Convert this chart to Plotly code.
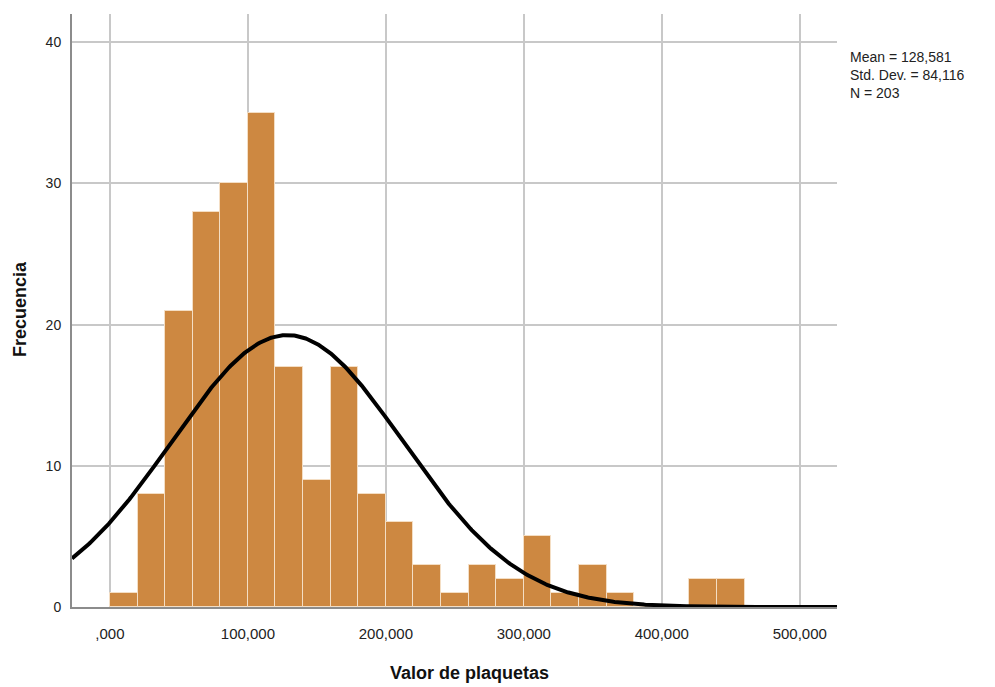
import numpy as np
import plotly.graph_objects as go

# Histogram of platelet values: bin starts (width 20,000) and frequencies
bin_starts = [0, 20000, 40000, 60000, 80000, 100000, 120000, 140000, 160000, 180000,
              200000, 220000, 240000, 260000, 280000, 300000, 320000, 340000, 360000,
              380000, 400000, 420000, 440000]
frequencies = [1, 8, 21, 28, 30, 35, 17, 9, 17, 8,
               6, 3, 1, 3, 2, 5, 1, 3, 1,
               0, 0, 2, 2]
bin_width = 20000

# Summary statistics
mean_val = 128581
std_val = 84116
n_val = 203

x_tickvals = [0, 100000, 200000, 300000, 400000, 500000]
x_ticktext = [",000", "100,000", "200,000", "300,000", "400,000", "500,000"]
y_tickvals = [0, 10, 20, 30, 40]

x_range = [-27500, 527000]
y_range = [0, 42]

bar_centers = [b + bin_width / 2 for b in bin_starts]

# Normal curve scaled to counts per bin
xs = np.linspace(x_range[0], x_range[1], 600)
ys = n_val * bin_width / (std_val * np.sqrt(2 * np.pi)) * np.exp(-0.5 * ((xs - mean_val) / std_val) ** 2)

fig = go.Figure()
fig.add_trace(go.Bar(
    x=bar_centers, y=frequencies, width=bin_width,
    marker=dict(color="#CD8841", line=dict(color="#F4DEC4", width=1)),
    hoverinfo="x+y",
))
fig.add_trace(go.Scatter(
    x=xs, y=ys, mode="lines",
    line=dict(color="#000000", width=4),
    hoverinfo="skip",
))

font_family = "Liberation Sans, Arial, sans-serif"

fig.update_layout(
    width=995, height=687,
    margin=dict(l=72, r=158, t=14, b=80),
    paper_bgcolor="white", plot_bgcolor="white",
    showlegend=False,
    bargap=0,
    font=dict(family=font_family, size=14, color="#222222"),
    xaxis=dict(
        range=x_range, tickvals=x_tickvals, ticktext=x_ticktext,
        showgrid=True, gridcolor="#C8C8C8", gridwidth=1.5,
        showline=True, linecolor="#8C8C8C", linewidth=2,
        zeroline=False, ticks="", ticklabelstandoff=12,
        tickfont=dict(size=15, color="#222222"),
    ),
    yaxis=dict(
        range=y_range, tickvals=y_tickvals,
        showgrid=True, gridcolor="#C8C8C8", gridwidth=1.5,
        showline=True, linecolor="#8C8C8C", linewidth=2,
        zeroline=False, ticks="", ticklabelstandoff=6,
        tickfont=dict(size=14, color="#222222"),
    ),
    annotations=[
        dict(text="<b>Valor de plaquetas</b>", xref="paper", yref="paper",
             x=(469 - 72) / (837 - 72), y=-(673 - 607) / (607 - 14),
             xanchor="center", yanchor="middle", showarrow=False,
             font=dict(size=18, color="#111111")),
        dict(text="<b>Frecuencia</b>", xref="paper", yref="paper",
             x=-(72 - 20) / (837 - 72), y=(607 - 309) / (607 - 14),
             xanchor="center", yanchor="middle", showarrow=False, textangle=-90,
             font=dict(size=18, color="#111111")),
        dict(text=f"Mean = 128,581<br>Std. Dev. = 84,116<br>N = {n_val}",
             xref="paper", yref="paper",
             x=(848 - 72) / (837 - 72), y=(607 - 47) / (607 - 14),
             xanchor="left", yanchor="top", align="left", showarrow=False,
             font=dict(size=14, color="#222222")),
    ],
)

fig.write_html("out.html")
